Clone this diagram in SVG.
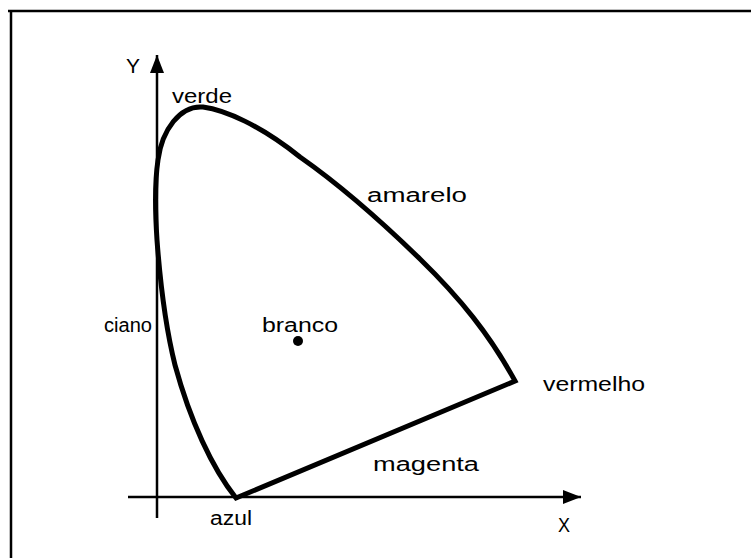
<svg xmlns="http://www.w3.org/2000/svg" width="751" height="558" viewBox="0 0 751 558">
<style>
.lbl{font-family:"Liberation Sans",Arial,sans-serif;font-size:20px;fill:#000}
.axis{stroke:#000;stroke-width:2.5;fill:none}
.frame{stroke:#000;stroke-width:2.5;fill:none}
</style>
<defs>
<marker id="arr" viewBox="0 0 18 14" refX="18" refY="7" markerWidth="18" markerHeight="14" markerUnits="userSpaceOnUse" orient="auto">
<path d="M0,0 L18,7 L0,14 Z" fill="#000"/>
</marker>
</defs>
<rect width="751" height="558" fill="#fff"/>
<g id="frame">
<path class="frame" d="M8,11 H751 M11,11 V558"/>
</g>
<g id="connectors">
<line class="axis" x1="157" y1="518" x2="157" y2="55" marker-end="url(#arr)"/>
<line class="axis" x1="128" y1="497" x2="581" y2="497" marker-end="url(#arr)"/>
</g>
<g id="gamut">
<path d="M236,498 C212,468 190,420 175,365 C165,325 160,280 157,240 C155,210 155,180 158,160 C162,130 180,105 203,107 C225,110 260,125 300,157 C340,185 380,220 420,259 C460,298 490,335 515,381 Z" fill="none" stroke="#000" stroke-width="5" stroke-linejoin="miter"/>
</g>
<g id="white-point">
<circle cx="298" cy="341" r="5" fill="#000"/>
<text class="lbl" x="262" y="332" textLength="76" lengthAdjust="spacingAndGlyphs">branco</text>
</g>
<g id="labels">
<text class="lbl" x="126" y="73" textLength="14" lengthAdjust="spacingAndGlyphs">Y</text>
<text class="lbl" x="558" y="532" textLength="12" lengthAdjust="spacingAndGlyphs">X</text>
<text class="lbl" x="172" y="103" textLength="60" lengthAdjust="spacingAndGlyphs">verde</text>
<text class="lbl" x="367" y="202" textLength="100" lengthAdjust="spacingAndGlyphs">amarelo</text>
<text class="lbl" x="104" y="332" textLength="48" lengthAdjust="spacingAndGlyphs">ciano</text>
<text class="lbl" x="543" y="391" textLength="102" lengthAdjust="spacingAndGlyphs">vermelho</text>
<text class="lbl" x="373" y="471" textLength="106" lengthAdjust="spacingAndGlyphs">magenta</text>
<text class="lbl" x="210" y="525" textLength="42" lengthAdjust="spacingAndGlyphs">azul</text>
</g>
</svg>
